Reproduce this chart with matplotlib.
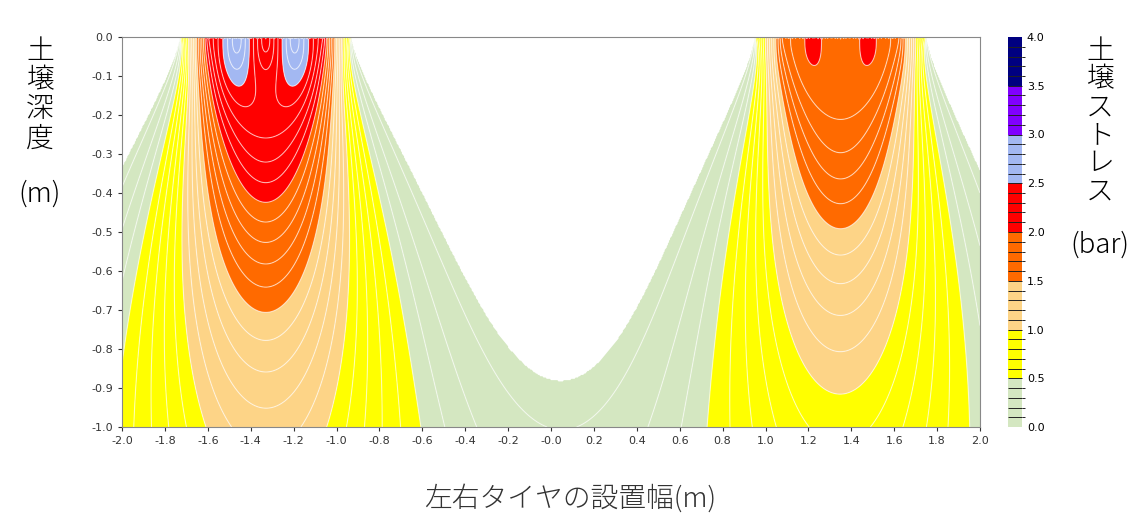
import numpy as np
import matplotlib
matplotlib.use("Agg")
import matplotlib.pyplot as plt
from matplotlib.colors import ListedColormap, BoundaryNorm

plt.rcParams['font.family'] = ['Noto Sans CJK JP', 'DejaVu Sans']

# Tyre loads: centres, contact widths, contact pressure profile (bar)
tire_centers = [-1.33, 1.35]
tire_widths = [0.80, 0.80]
pressure_profiles = [
    [0.5, 2.2, 2.8, 2.1, 2.8, 2.2, 0.5],
    [0.5, 1.85, 2.05, 1.9, 2.05, 1.85, 0.5],
]
concentration = 4
levels = [round(0.1 * i, 1) for i in range(0, 41)]
band_colors = ['#d4e7c1', '#ffff00', '#fdd487', '#ff6a00', '#ff0000', '#a3b8f2', '#8000ff', '#000080']
white_below = 0.15

x = np.linspace(-2, 2, 801)
z = np.linspace(0.002, 1.0, 300)
X, Z = np.meshgrid(x, z)
S = np.zeros_like(X)
th = np.linspace(-np.pi / 2, np.pi / 2, 2001)
C = 1.0 / np.trapezoid(np.cos(th) ** (concentration - 1), th)
nsub = 60
for c, w, prof in zip(tire_centers, tire_widths, pressure_profiles):
    xs = np.linspace(c - w / 2, c + w / 2, nsub * len(prof))
    pp = np.interp(np.linspace(0, 1, xs.size), np.linspace(0, 1, len(prof)), prof)
    dx = xs[1] - xs[0]
    for xi, pi in zip(xs, pp):
        r = np.sqrt((X - xi) ** 2 + Z ** 2)
        S += C * pi * dx * (Z / r) ** concentration / r
S = np.where(S < white_below, np.nan, S)

cols = [band_colors[i // 5] for i in range(40)]
cmap = ListedColormap(cols)
norm = BoundaryNorm(levels, cmap.N)

fig = plt.figure(figsize=(11.4, 5.3), dpi=100)
ax = fig.add_axes([122/1140, 1-427/530, (980-122)/1140, (427-37)/530])
ax.contourf(X, -Z, S, levels=levels, cmap=cmap, norm=norm, antialiased=True)
ax.contour(X, -Z, S, levels=levels[2:], colors='white', linewidths=0.8, alpha=0.6)
ax.set_xlim(-2, 2)
ax.set_ylim(-1, 0)
xt = np.round(np.arange(-2, 2.01, 0.2), 1)
ax.set_xticks(xt)
ax.set_xticklabels([f"{v:.1f}" for v in xt], family='DejaVu Sans')
yt = np.round(np.arange(-1, 0.01, 0.1), 1)
ax.set_yticks(yt)
ax.set_yticklabels([f"{abs(v) if v == 0 else v:.1f}" for v in yt], family='DejaVu Sans')
ax.tick_params(labelsize=8, length=3, colors='#333333')
for s in ax.spines.values():
    s.set_color('#888888')

cax = fig.add_axes([1008/1140, 1-427/530, 14/1140, (427-37)/530])
cb = fig.colorbar(matplotlib.cm.ScalarMappable(norm=norm, cmap=cmap), cax=cax, ticks=np.arange(0, 4.01, 0.5), drawedges=True)
cb.dividers.set_color('#222222'); cb.dividers.set_linewidth(0.7)
cb.outline.set_visible(False)
cb.ax.tick_params(labelsize=8, length=0)
cb.ax.set_yticklabels([f"{v:.1f}" for v in np.arange(0, 4.01, 0.5)], family='DejaVu Sans')

fig.text(0.035, 0.93, "土\n壌\n深\n度", fontsize=20, weight='light', ha='center', va='top', linespacing=1.05)
fig.text(0.035, 0.66, "(m)", fontsize=20, weight='light', style='italic', ha='center', va='top')
fig.text(0.965, 0.93, "土\n壌\nス\nト\nレ\nス", fontsize=20, weight='light', ha='center', va='top', linespacing=1.0)
fig.text(0.965, 0.565, "(bar)", fontsize=20, weight='light', style='italic', ha='center', va='top')
fig.text(0.5, 0.06, "左右タイヤの設置幅(m)", fontsize=20, weight='light', style='italic', ha='center', va='center', color='#333333')
fig.savefig("out.png", dpi=100)
